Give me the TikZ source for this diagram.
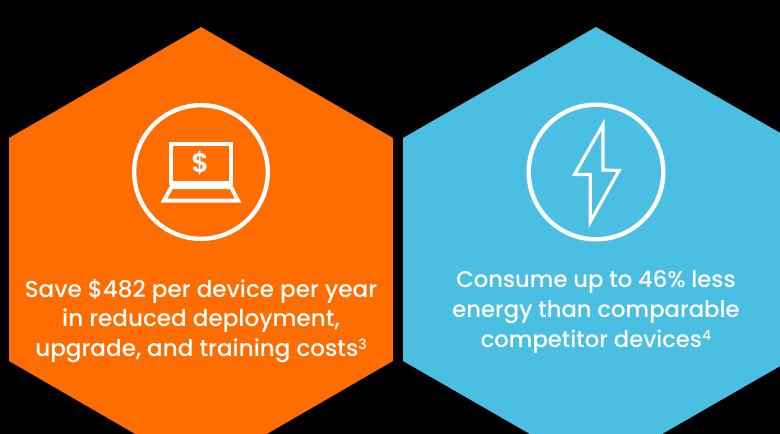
\documentclass[tikz,border=0pt]{standalone}
\usepackage{fontspec}
\setmainfont{Poppins}[UprightFont=* Medium,BoldFont=* SemiBold]
\definecolor{hexorange}{HTML}{FF6C00}
\definecolor{hexblue}{HTML}{4ABFE1}
\newcommand{\supnum}[1]{\raisebox{7pt}{\fontsize{14}{14}\selectfont #1}}
\tikzset{
  hexa/.style={draw=none},
  ring/.style={draw=white,line width=4.4pt},
  icon/.style={draw=white,line width=4pt,miter limit=20,line join=miter},
  bolt/.style={draw=white,line width=3.2pt,miter limit=20,line join=miter},
  caption/.style={text=white,align=center,inner sep=0pt,anchor=center},
  captionA/.style={caption,font=\fontsize{23.1}{29.2}\selectfont},
  captionB/.style={caption,font=\fontsize{22.7}{30}\selectfont}
}
\begin{document}
\begin{tikzpicture}[x=1pt,y=-1pt]
\path[use as bounding box] (0,0) rectangle (780,434);
\fill[black] (0,0) rectangle (780,434);
\begin{scope}
\clip (0,0) rectangle (780,434);
\fill[hexorange,hexa] (201,27) -- (393,138) -- (393,361) -- (201,472) -- (9,361) -- (9,138) -- cycle;
\fill[hexblue,hexa] (596,27) -- (789,138) -- (789,361) -- (596,472) -- (403,361) -- (403,138) -- cycle;
\end{scope}
\draw[ring] (201,172) circle (66.8);
\draw[ring] (596,172) circle (67.3);
% laptop
\draw[icon] (171.3,183.3) -- (171.3,144.3) -- (231.3,144.3) -- (231.3,183.3) -- cycle;
\draw[icon] (171.5,187) -- (231,187) -- (238,200.5) -- (164,200.5) -- cycle;
\node[text=white,font=\bfseries\fontsize{27}{27}\selectfont,inner sep=0pt] (dollar) at (200.3,163.5) {\$};
% bolt
\draw[bolt] (603,124.5) -- (603,170) -- (619,170.5) -- (590.2,222) -- (590.2,174.5) -- (574.5,174.5) -- cycle;
\node[captionA] (savetext) at (201,321) {Save \$482 per device per year\\in reduced deployment,\\upgrade, and training costs\supnum{3}};
\node[captionB] (consumetext) at (596,312) {Consume up to 46\% less\\energy than comparable\\competitor devices\supnum{4}};
\end{tikzpicture}
\end{document}
